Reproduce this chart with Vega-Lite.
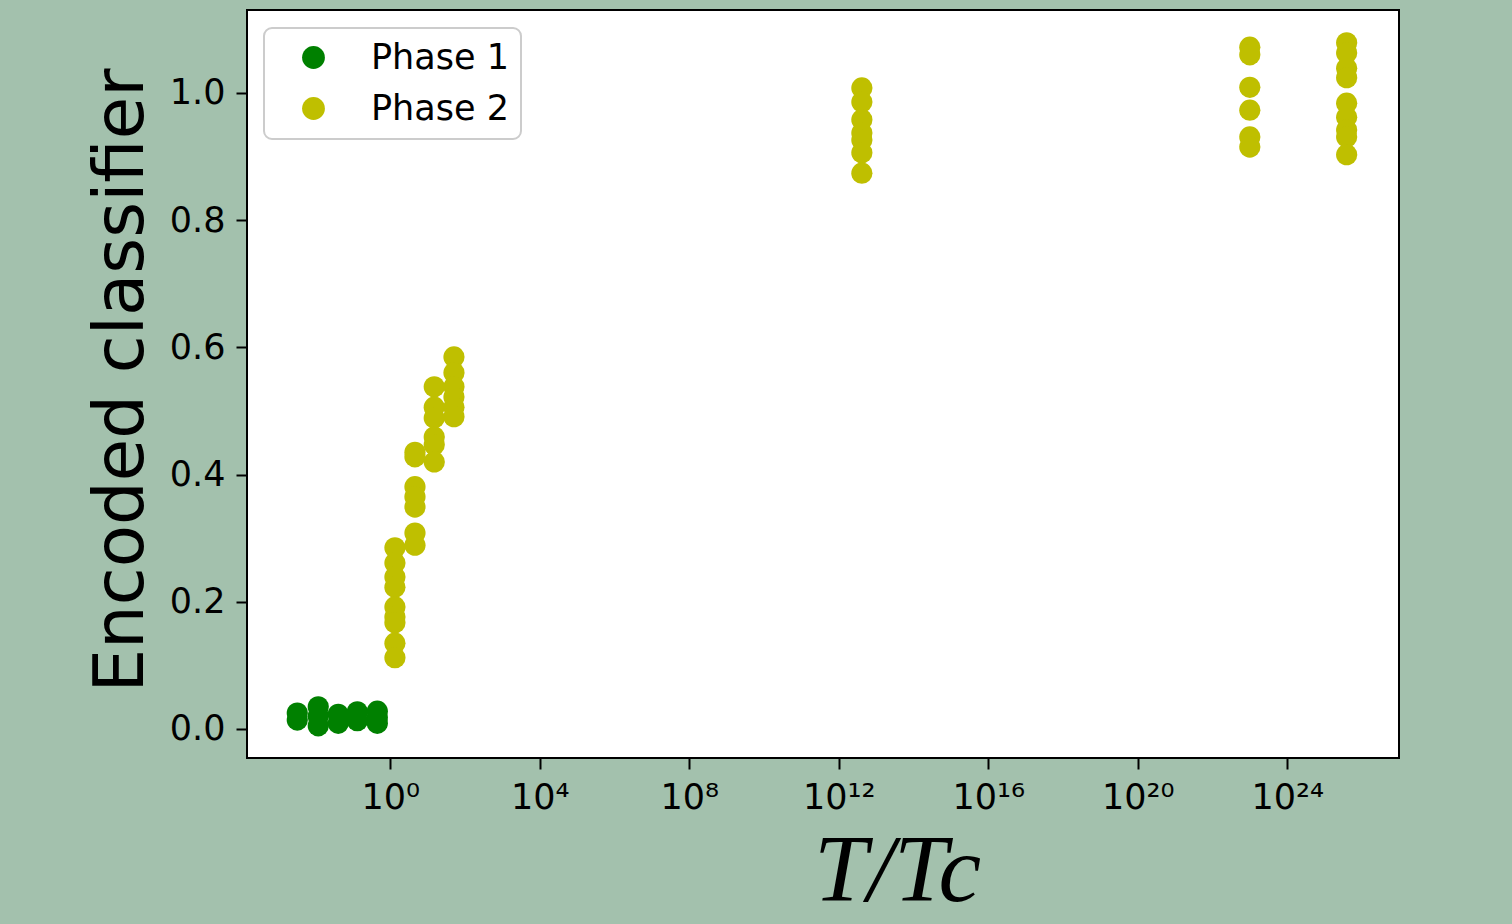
{
  "$schema": "https://vega.github.io/schema/vega-lite/v6.json",
  "width": 1152,
  "height": 748,
  "autosize": {"type": "none"},
  "padding": {"left": 247, "top": 10, "right": 113, "bottom": 166},
  "background": "#a3c1ad",
  "config": {
    "view": {"fill": "white", "stroke": "black", "strokeWidth": 2},
    "font": "DejaVu Sans"
  },
  "data": {
    "values": [
      {"T": 0.00327, "v": 0.025, "phase": "Phase 1"},
      {"T": 0.00327, "v": 0.014, "phase": "Phase 1"},
      {"T": 0.0119, "v": 0.035, "phase": "Phase 1"},
      {"T": 0.0119, "v": 0.02, "phase": "Phase 1"},
      {"T": 0.0119, "v": 0.005, "phase": "Phase 1"},
      {"T": 0.0408, "v": 0.023, "phase": "Phase 1"},
      {"T": 0.0408, "v": 0.009, "phase": "Phase 1"},
      {"T": 0.132, "v": 0.027, "phase": "Phase 1"},
      {"T": 0.132, "v": 0.013, "phase": "Phase 1"},
      {"T": 0.452, "v": 0.028, "phase": "Phase 1"},
      {"T": 0.452, "v": 0.018, "phase": "Phase 1"},
      {"T": 0.452, "v": 0.009, "phase": "Phase 1"},
      {"T": 1.34, "v": 0.285, "phase": "Phase 2"},
      {"T": 1.34, "v": 0.261, "phase": "Phase 2"},
      {"T": 1.34, "v": 0.239, "phase": "Phase 2"},
      {"T": 1.34, "v": 0.223, "phase": "Phase 2"},
      {"T": 1.34, "v": 0.192, "phase": "Phase 2"},
      {"T": 1.34, "v": 0.176, "phase": "Phase 2"},
      {"T": 1.34, "v": 0.167, "phase": "Phase 2"},
      {"T": 1.34, "v": 0.135, "phase": "Phase 2"},
      {"T": 1.34, "v": 0.112, "phase": "Phase 2"},
      {"T": 4.6, "v": 0.435, "phase": "Phase 2"},
      {"T": 4.6, "v": 0.428, "phase": "Phase 2"},
      {"T": 4.6, "v": 0.381, "phase": "Phase 2"},
      {"T": 4.6, "v": 0.365, "phase": "Phase 2"},
      {"T": 4.6, "v": 0.349, "phase": "Phase 2"},
      {"T": 4.6, "v": 0.308, "phase": "Phase 2"},
      {"T": 4.6, "v": 0.289, "phase": "Phase 2"},
      {"T": 15.1, "v": 0.538, "phase": "Phase 2"},
      {"T": 15.1, "v": 0.506, "phase": "Phase 2"},
      {"T": 15.1, "v": 0.489, "phase": "Phase 2"},
      {"T": 15.1, "v": 0.459, "phase": "Phase 2"},
      {"T": 15.1, "v": 0.447, "phase": "Phase 2"},
      {"T": 15.1, "v": 0.42, "phase": "Phase 2"},
      {"T": 50.9, "v": 0.585, "phase": "Phase 2"},
      {"T": 50.9, "v": 0.56, "phase": "Phase 2"},
      {"T": 50.9, "v": 0.538, "phase": "Phase 2"},
      {"T": 50.9, "v": 0.522, "phase": "Phase 2"},
      {"T": 50.9, "v": 0.506, "phase": "Phase 2"},
      {"T": 50.9, "v": 0.491, "phase": "Phase 2"},
      {"T": 4.17e12, "v": 1.008, "phase": "Phase 2"},
      {"T": 4.17e12, "v": 0.986, "phase": "Phase 2"},
      {"T": 4.17e12, "v": 0.958, "phase": "Phase 2"},
      {"T": 4.17e12, "v": 0.937, "phase": "Phase 2"},
      {"T": 4.17e12, "v": 0.926, "phase": "Phase 2"},
      {"T": 4.17e12, "v": 0.906, "phase": "Phase 2"},
      {"T": 4.17e12, "v": 0.874, "phase": "Phase 2"},
      {"T": 1e23, "v": 1.072, "phase": "Phase 2"},
      {"T": 1e23, "v": 1.06, "phase": "Phase 2"},
      {"T": 1e23, "v": 1.009, "phase": "Phase 2"},
      {"T": 1e23, "v": 0.973, "phase": "Phase 2"},
      {"T": 1e23, "v": 0.931, "phase": "Phase 2"},
      {"T": 1e23, "v": 0.915, "phase": "Phase 2"},
      {"T": 3.9e25, "v": 1.079, "phase": "Phase 2"},
      {"T": 3.9e25, "v": 1.063, "phase": "Phase 2"},
      {"T": 3.9e25, "v": 1.039, "phase": "Phase 2"},
      {"T": 3.9e25, "v": 1.024, "phase": "Phase 2"},
      {"T": 3.9e25, "v": 0.984, "phase": "Phase 2"},
      {"T": 3.9e25, "v": 0.962, "phase": "Phase 2"},
      {"T": 3.9e25, "v": 0.942, "phase": "Phase 2"},
      {"T": 3.9e25, "v": 0.931, "phase": "Phase 2"},
      {"T": 3.9e25, "v": 0.903, "phase": "Phase 2"}
    ]
  },
  "mark": {"type": "circle", "size": 450, "opacity": 1, "strokeWidth": 0},
  "encoding": {
    "x": {
      "field": "T",
      "type": "quantitative",
      "scale": {"type": "log", "domain": [0.0001475, 9.8e26], "nice": false},
      "axis": {
        "values": [1, 1e4, 1e8, 1e12, 1e16, 1e20, 1e24],
        "labelExpr": "datum.value < 10 ? '10⁰' : datum.value < 1e5 ? '10⁴' : datum.value < 1e9 ? '10⁸' : datum.value < 1e13 ? '10¹²' : datum.value < 1e17 ? '10¹⁶' : datum.value < 1e21 ? '10²⁰' : '10²⁴'",
        "labelFontSize": 35,
        "labelColor": "black",
        "labelPadding": 11,
        "labelFlush": false,
        "labelOverlap": false,
        "tickSize": 11,
        "tickWidth": 2,
        "tickColor": "black",
        "domain": false,
        "grid": false,
        "title": "T/Tc",
        "titleFont": "Liberation Serif",
        "titleFontStyle": "italic",
        "titleFontWeight": "normal",
        "titleFontSize": 96,
        "titleColor": "black",
        "titleX": 650,
        "titleY": 142,
        "titleBaseline": "alphabetic",
        "titleAlign": "center"
      }
    },
    "y": {
      "field": "v",
      "type": "quantitative",
      "scale": {"domain": [-0.0456, 1.1305], "nice": false, "zero": false},
      "axis": {
        "values": [0, 0.2, 0.4, 0.6, 0.8, 1.0],
        "format": ".1f",
        "labelFontSize": 35,
        "labelColor": "black",
        "labelPadding": 11,
        "labelFlush": false,
        "tickSize": 11,
        "tickWidth": 2,
        "tickColor": "black",
        "domain": false,
        "grid": false,
        "title": "Encoded classifier",
        "titleFont": "DejaVu Sans",
        "titleFontWeight": "normal",
        "titleFontSize": 69,
        "titleColor": "black",
        "titleX": -105,
        "titleY": 370,
        "titleAngle": 270,
        "titleBaseline": "alphabetic",
        "titleAlign": "center"
      }
    },
    "color": {
      "field": "phase",
      "type": "nominal",
      "scale": {"domain": ["Phase 1", "Phase 2"], "range": ["#008000", "#bfbf00"]},
      "legend": {
        "title": null,
        "orient": "none",
        "legendX": 17,
        "legendY": 18,
        "direction": "vertical",
        "fillColor": "white",
        "strokeColor": "#cccccc",
        "cornerRadius": 8,
        "padding": 12,
        "symbolOffset": 20,
        "symbolSize": 520,
        "symbolType": "circle",
        "symbolStrokeWidth": 0,
        "symbolOpacity": 1,
        "labelFontSize": 35,
        "labelFont": "DejaVu Sans",
        "labelColor": "black",
        "labelOffset": 40,
        "rowPadding": 15,
        "encode": {"legend": {"update": {"strokeWidth": {"value": 2}}}}
      }
    }
  }
}
